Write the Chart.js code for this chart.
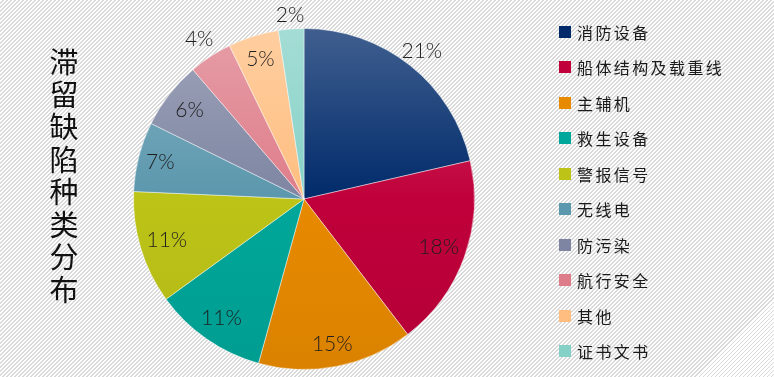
<!DOCTYPE html>
<html>
<head>
<meta charset="utf-8">
<script src="https://cdn.jsdelivr.net/npm/chart.js@4.4.1/dist/chart.umd.min.js"></script>
<style>
html,body{margin:0;padding:0;}
body{width:774px;height:377px;overflow:hidden;position:relative;
background:repeating-linear-gradient(135deg,#ffffff 0px,#ffffff 1.7px,#d9d9d9 1.7px,#d9d9d9 2.83px);}
#wrap{position:absolute;left:0;top:0;width:774px;height:377px;}
#title{position:absolute;left:47px;top:44px;width:34px;font-family:"Noto Sans CJK SC";font-size:29px;line-height:32.5px;color:#111;text-align:center;}
#legend{position:absolute;left:559px;top:14px;font-family:"Noto Sans CJK SC";font-size:16px;letter-spacing:2.4px;color:#1a1a1a;}
.li{height:35.5px;display:flex;align-items:center;}
.sw{width:12px;height:12px;margin-right:6px;}
</style>
</head>
<body>
<div id="wrap"><canvas id="c" width="774" height="377"></canvas></div>
<div id="title"></div>
<div id="legend"></div>
<script>
const titleText = "滞留缺陷种类分布";
const categories = ["消防设备","船体结构及载重线","主辅机","救生设备","警报信号","无线电","防污染","航行安全","其他","证书文书"];
const values = [21.4, 18.2, 14.7, 10.7, 10.7, 6.6, 6.4, 4.1, 4.8, 2.4];
const colors = ["#002a6a","#c0003a","#e88a00","#00a79a","#bdc417","#5b97ad","#7e85a2","#de7d8a","#ffbe80","#86d1c7"];
const labelRadius = [1.11, 0.84, 0.87, 0.85, 0.84, 0.87, 0.85, 1.12, 0.86, 1.08];

document.getElementById('title').innerHTML = titleText.split('').map(c=>'<div>'+c+'</div>').join('');
document.getElementById('legend').innerHTML = categories.map((c,i)=>
  '<div class="li"><div class="sw" style="background:'+colors[i]+'"></div>'+c+'</div>').join('');

function mix(hex, t, target){
  const n=parseInt(hex.slice(1),16);
  let r=(n>>16)&255,g=(n>>8)&255,b=n&255;
  r=Math.round(r+(target-r)*t);g=Math.round(g+(target-g)*t);b=Math.round(b+(target-b)*t);
  return 'rgb('+r+','+g+','+b+')';
}

const labelPlugin = {
  id:'pctLabels',
  afterDatasetsDraw(chart){
    const ctx=chart.ctx;
    const meta=chart.getDatasetMeta(0);
    const total=values.reduce((a,b)=>a+b,0);
    ctx.save();
    ctx.font='300 21px Lato';
    ctx.fillStyle='#1e1e1e';
    ctx.textAlign='center';ctx.textBaseline='middle';
    meta.data.forEach((arc,i)=>{
      const p=arc.getProps(['x','y','startAngle','endAngle','outerRadius'],true);
      const a=(p.startAngle+p.endAngle)/2;
      const r=p.outerRadius*labelRadius[i];
      const txt=Math.round(values[i]/total*100)+'%';
      ctx.fillText(txt,p.x+Math.cos(a)*r,p.y+Math.sin(a)*r);
    });
    ctx.restore();
  }
};

new Chart(document.getElementById('c'),{
  type:'pie',
  data:{labels:categories,datasets:[{
    data:values,
    backgroundColor(ctx){
      const chart=ctx.chart;const area=chart.chartArea;
      const base=colors[ctx.dataIndex];
      if(!area) return base;
      const g=chart.ctx.createLinearGradient(0,area.top,0,area.bottom);
      g.addColorStop(0,mix(base,0.25,255));
      g.addColorStop(0.5,base);
      g.addColorStop(1,mix(base,0.06,0));
      return g;
    },
    borderColor:'rgba(255,255,255,0.45)',
    borderWidth:1
  }]},
  options:{
    responsive:false,animation:false,
    layout:{padding:{left:133,right:299,top:28,bottom:7}},
    plugins:{legend:{display:false},tooltip:{enabled:false},title:{display:false}}
  },
  plugins:[labelPlugin]
});
</script>
</body>
</html>
